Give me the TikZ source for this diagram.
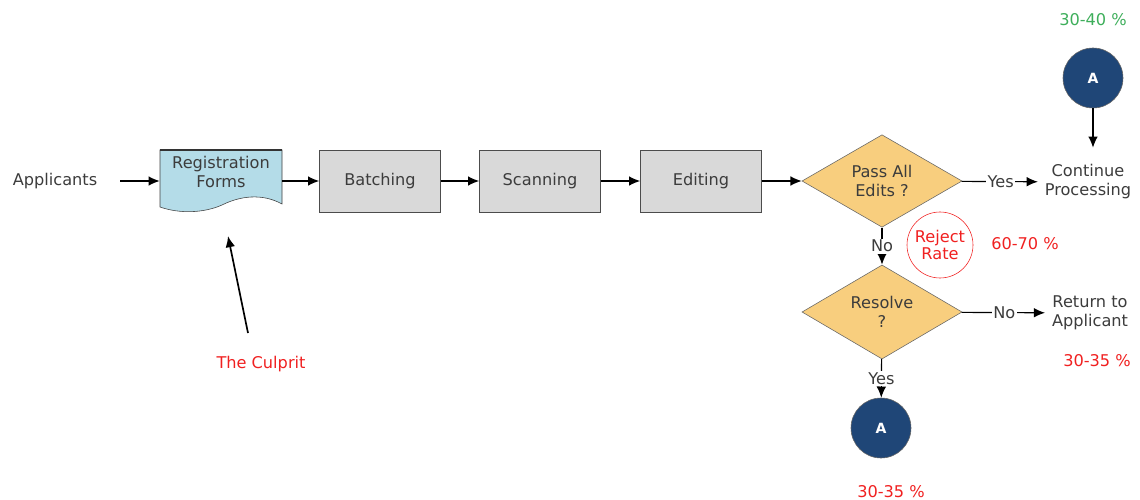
\documentclass[tikz,border=0pt]{standalone}
\usepackage{fontspec}
\setmainfont{DejaVu Sans}
\usetikzlibrary{arrows.meta,shapes.geometric,positioning}

\definecolor{boxgray}{HTML}{D9D9D9}
\definecolor{formblue}{HTML}{B4DCE8}
\definecolor{decisionorange}{HTML}{F8CE7E}
\definecolor{connavy}{HTML}{1F4677}
\definecolor{txtgray}{HTML}{3C3C3C}
\definecolor{pctgreen}{HTML}{3DAE5A}
\definecolor{pctred}{HTML}{F02020}

\begin{document}
\begin{tikzpicture}[x=0.025cm,y=-0.025cm,
    font=\fontsize{11.5}{13.5}\selectfont,
    >={Latex[length=2.8mm,width=2.4mm]},
    every edge/.style={draw=black,thick,->}]
  \useasboundingbox (0,0) rectangle (1140,500);

  % process boxes
  \begin{scope}[every node/.style={rectangle,draw=black!70,fill=boxgray,
      minimum width=3.025cm,minimum height=1.55cm,text=txtgray}]
    \node (batch) at (380,181) {Batching};
    \node (scan) at (540,181) {Scanning};
    \node (edit) at (701,181) {Editing};
  \end{scope}

  % the form (document shape)
  \draw[draw=black!75,fill=formblue] (160,150) -- (282,150) -- (282,204)
    .. controls (262,193) and (240,196) .. (222,205)
    .. controls (204,213) and (180,214) .. (160,207) -- cycle;
  \draw[very thick,black!80] (160,150) -- (282,150);
  \node[minimum width=3.05cm,minimum height=1.55cm,align=center,text=txtgray]
    (forms) at (221,181) {Registration\\Forms\\\mbox{}};

  % decisions
  \begin{scope}[every node/.style={diamond,draw=black!60,fill=decisionorange,
      minimum width=4cm,minimum height=2cm,inner sep=0pt,align=center,text=txtgray}]
    \node (pass) at (882,181) {Pass All\\Edits ?};
    \node (resolve) at (882,312) {Resolve\\?};
  \end{scope}

  % connectors
  \begin{scope}[every node/.style={circle,draw=black!60,fill=connavy,text=white,
      minimum size=1.5cm,inner sep=0pt,font=\fontsize{10}{12}\selectfont\bfseries}]
    \node (topA) at (1093,78) {A};
    \node (botA) at (881,428) {A};
  \end{scope}

  % plain texts
  \begin{scope}[every node/.style={align=center,text=txtgray}]
    \node (apps) at (55,181) {Applicants};
    \node (cont) at (1088,182) {Continue\\Processing};
    \node (ret) at (1090,313) {Return to\\Applicant};
  \end{scope}

  % notes
  \node[text=pctgreen] (pctTop) at (1093,20) {30-40 \%};
  \node[text=pctred] (pctReject) at (1025,244) {60-70 \%};
  \node[text=pctred] (pctReturn) at (1097,361) {30-35 \%};
  \node[text=pctred] (pctBot) at (891,492) {30-35 \%};
  \node[circle,draw=pctred,text=pctred,minimum size=1.65cm,inner sep=0pt,align=center]
    (reject) at (940,245) {Reject\\[-2pt]Rate};
  \node[text=pctred] (culprit) at (261,364) {The Culprit};
  \coordinate (culpritTail) at (248,333);
  \coordinate (culpritTip) at (228,236);

  % flow
  \begin{scope}[every node/.style={fill=white,inner sep=1pt,text=txtgray}]
    \path (apps) edge[shorten <=0.45cm] (forms);
    \path (forms) edge (batch);
    \path (batch) edge (scan);
    \path (scan) edge (edit);
    \path (edit) edge (pass);
    \path (pass) edge[shorten >=0.05cm] node {Yes} (cont);
    \path (topA) edge[shorten >=0.3cm] (topA |- cont.north);
    \path (pass) edge node {No} (resolve);
    \path (resolve) edge[shorten >=0.05cm] node {No} (ret);
    \path (resolve) edge node {Yes} (botA);
    \path (culpritTail) edge[very thick] (culpritTip);
  \end{scope}
\end{tikzpicture}
\end{document}
